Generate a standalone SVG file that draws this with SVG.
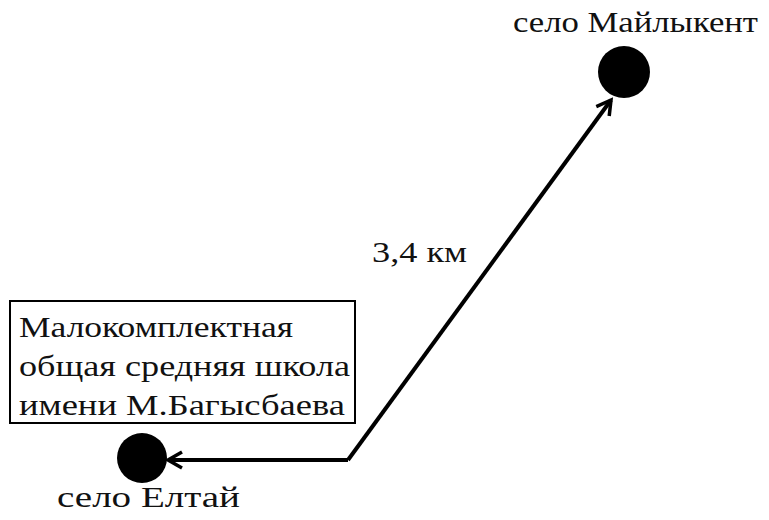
<svg xmlns="http://www.w3.org/2000/svg" width="769" height="520" viewBox="0 0 769 520">
<style>
text{font-family:"Liberation Serif","Noto Serif","DejaVu Serif",serif;fill:#111;font-size:30px}
.line{fill:none;stroke:#000;stroke-width:4;stroke-linejoin:miter}
.dot{fill:#000}
</style>
<defs>
<marker id="arr" markerWidth="20" markerHeight="20" refX="16" refY="10" orient="auto" markerUnits="userSpaceOnUse">
<path d="M2,2 L16,10 L2,18" fill="none" stroke="#000" stroke-width="3.5"/>
</marker>
</defs>
<rect width="769" height="520" fill="#fff"/>
<g id="school">
<rect x="10" y="301" width="345" height="122" fill="none" stroke="#000" stroke-width="2"/>
<text x="19" y="337" textLength="274" lengthAdjust="spacingAndGlyphs">Малокомплектная</text>
<text x="19" y="376" textLength="331" lengthAdjust="spacingAndGlyphs">общая средняя школа</text>
<text x="19" y="415" textLength="326" lengthAdjust="spacingAndGlyphs">имени М.Багысбаева</text>
</g>
<g id="eltay">
<circle class="dot" cx="142" cy="458" r="25"/>
<text x="57" y="507" textLength="183" lengthAdjust="spacingAndGlyphs">село Елтай</text>
</g>
<g id="maylykent">
<circle class="dot" cx="624" cy="72" r="26"/>
<text x="513" y="32" textLength="245" lengthAdjust="spacingAndGlyphs">село Майлыкент</text>
</g>
<g id="connectors">
<path class="line" d="M348,460 L611,100" marker-end="url(#arr)"/>
<path class="line" d="M348,460 L168,460" marker-end="url(#arr)"/>
<text x="372" y="262" textLength="95" lengthAdjust="spacingAndGlyphs">3,4 км</text>
</g>
</svg>
